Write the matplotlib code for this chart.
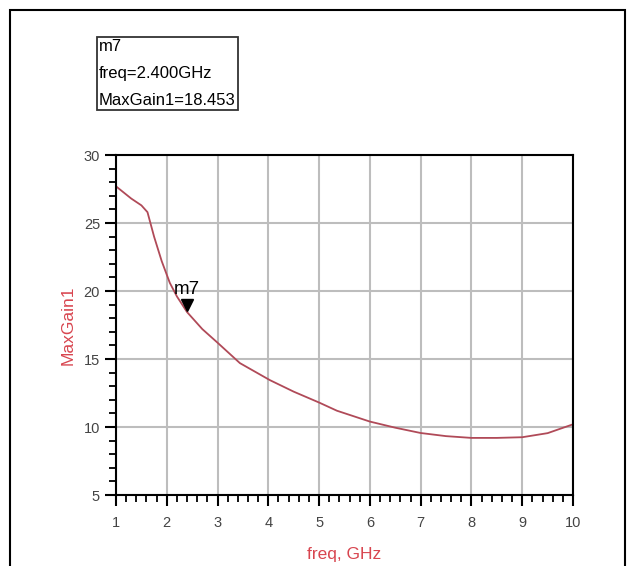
import numpy as np
import matplotlib.pyplot as plt
from matplotlib.ticker import MultipleLocator
from matplotlib.patches import Rectangle
import matplotlib.transforms as mtransforms

plt.rcParams['font.family'] = ['Liberation Sans', 'DejaVu Sans']

# curve
freq = [1.0, 1.3, 1.5, 1.62, 1.75, 1.9, 2.06, 2.2, 2.4, 2.7, 3.0, 3.44, 4.03, 4.5, 5.0, 5.35, 6.0, 6.5, 7.0, 7.5, 8.0, 8.5, 9.0, 9.5, 10.0]
gain = [27.7, 26.8, 26.3, 25.8, 24.0, 22.2, 20.6, 19.6, 18.45, 17.2, 16.2, 14.7, 13.45, 12.6, 11.8, 11.2, 10.4, 9.95, 9.56, 9.33, 9.2, 9.2, 9.25, 9.55, 10.2]
m_freq = 2.4
m_gain = 18.453

red = '#d8454f'
fig = plt.figure(figsize=(6.29, 5.66), dpi=100)
ax = fig.add_axes([0.1844, 0.1254, 0.9110 - 0.1844, 0.7261 - 0.1254])

ax.plot(freq, gain, color='#b04a58', lw=1.3)
off = mtransforms.offset_copy(ax.transData, fig=fig, x=0, y=5, units='points')
ax.plot([m_freq], [m_gain], marker='v', color='black', ms=8, transform=off)
ax.text(m_freq, m_gain + 1.0, 'm7', fontsize=13.5, ha='center', va='bottom')

ax.set_xlim(1, 10)
ax.set_ylim(5, 30)
ax.xaxis.set_major_locator(MultipleLocator(1))
ax.xaxis.set_minor_locator(MultipleLocator(0.2))
ax.yaxis.set_major_locator(MultipleLocator(5))
ax.yaxis.set_minor_locator(MultipleLocator(1))
ax.tick_params(which='major', direction='out', length=8, width=1.5, colors='black',
               labelcolor='#444444', labelsize=10.5)
ax.tick_params(axis='x', which='major', pad=7)
ax.tick_params(which='minor', direction='out', length=5, width=1.3)
ax.grid(True, which='major', color='#bdbdbd', lw=1.5)
ax.set_axisbelow(True)
for s in ax.spines.values():
    s.set_linewidth(1.5)
    s.set_color('black')

ax.set_ylabel('MaxGain1', color=red, fontsize=12.5, labelpad=6)
ax.set_xlabel('freq, GHz', color=red, fontsize=12.5, labelpad=12)

# marker readout box
fig.text(99 / 629, 1 - 39 / 566,
         'm7\nfreq=2.400GHz\nMaxGain1=18.453',
         fontsize=12, va='top', ha='left', linespacing=2.0,
         bbox=dict(boxstyle='square,pad=0.12', fc='white', ec='#333333', lw=1.3))

# outer frame
fig.patches.append(Rectangle((10 / 629, -0.05), 615 / 629, 1 - 10 / 566 + 0.05,
                             transform=fig.transFigure, fill=False, ec='black', lw=1.5))

fig.savefig('out.png', dpi=100)
